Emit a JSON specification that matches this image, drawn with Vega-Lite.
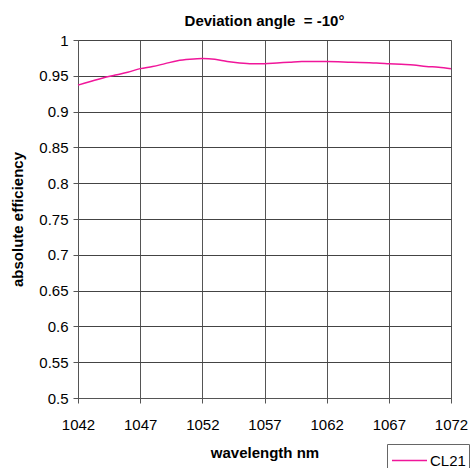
{
  "$schema": "https://vega.github.io/schema/vega-lite/v6.json",
  "width": 373,
  "height": 358,
  "autosize": {"type": "none"},
  "padding": {"left": 78, "top": 40, "right": 19, "bottom": 70},
  "background": "white",
  "title": {
    "text": "Deviation angle\u00a0 = -10°",
    "font": "Liberation Sans",
    "fontSize": 15,
    "fontWeight": "bold",
    "color": "black",
    "anchor": "middle",
    "offset": 4
  },
  "config": {
    "view": {"stroke": "#a0a0a0", "strokeWidth": 1},
    "font": "Liberation Sans"
  },
  "data": {
    "values": [
      {"wavelength": 1042, "efficiency": 0.937, "series": "CL21"},
      {"wavelength": 1043, "efficiency": 0.942, "series": "CL21"},
      {"wavelength": 1044, "efficiency": 0.947, "series": "CL21"},
      {"wavelength": 1045, "efficiency": 0.951, "series": "CL21"},
      {"wavelength": 1046, "efficiency": 0.955, "series": "CL21"},
      {"wavelength": 1047, "efficiency": 0.960, "series": "CL21"},
      {"wavelength": 1048, "efficiency": 0.963, "series": "CL21"},
      {"wavelength": 1049, "efficiency": 0.967, "series": "CL21"},
      {"wavelength": 1050, "efficiency": 0.971, "series": "CL21"},
      {"wavelength": 1051, "efficiency": 0.973, "series": "CL21"},
      {"wavelength": 1052, "efficiency": 0.974, "series": "CL21"},
      {"wavelength": 1053, "efficiency": 0.973, "series": "CL21"},
      {"wavelength": 1054, "efficiency": 0.970, "series": "CL21"},
      {"wavelength": 1055, "efficiency": 0.968, "series": "CL21"},
      {"wavelength": 1056, "efficiency": 0.967, "series": "CL21"},
      {"wavelength": 1057, "efficiency": 0.967, "series": "CL21"},
      {"wavelength": 1058, "efficiency": 0.968, "series": "CL21"},
      {"wavelength": 1059, "efficiency": 0.969, "series": "CL21"},
      {"wavelength": 1060, "efficiency": 0.970, "series": "CL21"},
      {"wavelength": 1062, "efficiency": 0.970, "series": "CL21"},
      {"wavelength": 1064, "efficiency": 0.969, "series": "CL21"},
      {"wavelength": 1066, "efficiency": 0.968, "series": "CL21"},
      {"wavelength": 1067, "efficiency": 0.967, "series": "CL21"},
      {"wavelength": 1068, "efficiency": 0.966, "series": "CL21"},
      {"wavelength": 1069, "efficiency": 0.965, "series": "CL21"},
      {"wavelength": 1070, "efficiency": 0.963, "series": "CL21"},
      {"wavelength": 1071, "efficiency": 0.962, "series": "CL21"},
      {"wavelength": 1072, "efficiency": 0.960, "series": "CL21"}
    ]
  },
  "mark": {"type": "line", "strokeWidth": 1.5, "interpolate": "monotone"},
  "encoding": {
    "x": {
      "field": "wavelength",
      "type": "quantitative",
      "scale": {"domain": [1042, 1072], "nice": false, "zero": false},
      "axis": {
        "values": [1042, 1047, 1052, 1057, 1062, 1067, 1072],
        "format": "d",
        "title": "wavelength nm",
        "titleFont": "Liberation Sans",
        "titleFontSize": 15,
        "titleFontWeight": "bold",
        "titleColor": "black",
        "titlePadding": 13,
        "labelFont": "Liberation Sans",
        "labelFontSize": 15,
        "labelColor": "black",
        "labelPadding": 14,
        "labelFlush": false,
        "labelBound": false,
        "labelOverlap": false,
        "tickSize": 5,
        "tickColor": "#555",
        "domainColor": "#555",
        "grid": true,
        "gridColor": "#555",
        "gridWidth": 1
      }
    },
    "y": {
      "field": "efficiency",
      "type": "quantitative",
      "scale": {"domain": [0.5, 1], "nice": false, "zero": false},
      "axis": {
        "values": [0.5, 0.55, 0.6, 0.65, 0.7, 0.75, 0.8, 0.85, 0.9, 0.95, 1],
        "format": ".2~f",
        "title": "absolute efficiency",
        "titleFont": "Liberation Sans",
        "titleFontSize": 15,
        "titleFontWeight": "bold",
        "titleColor": "black",
        "titlePadding": 13,
        "labelFont": "Liberation Sans",
        "labelFontSize": 15,
        "labelColor": "black",
        "labelPadding": 5,
        "labelOverlap": false,
        "labelFlush": false,
        "tickSize": 5,
        "tickColor": "#555",
        "domainColor": "#555",
        "grid": true,
        "gridColor": "#444",
        "gridWidth": 1
      }
    },
    "color": {
      "field": "series",
      "type": "nominal",
      "scale": {"range": ["#f0169a"]},
      "legend": {
        "title": null,
        "orient": "none",
        "legendX": 309,
        "legendY": 404,
        "symbolType": "M-1.4,0H1.4",
        "symbolSize": 625,
        "symbolOffset": 6,
        "symbolStrokeWidth": 1.5,
        "labelFont": "Liberation Sans",
        "labelFontSize": 15,
        "labelColor": "black",
        "labelOffset": 7,
        "strokeColor": "#666",
        "padding": 3,
        "fillColor": "white"
      }
    }
  }
}
